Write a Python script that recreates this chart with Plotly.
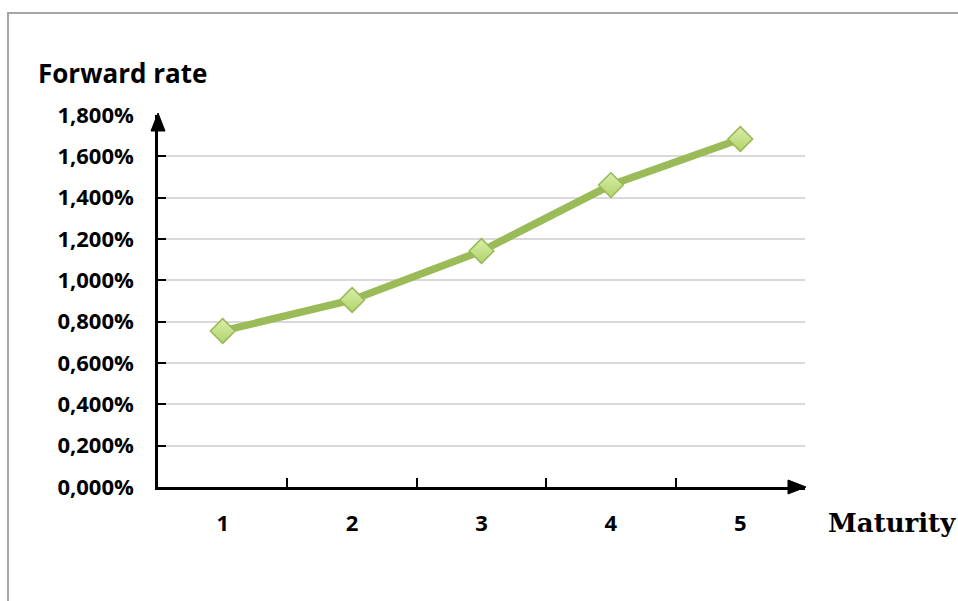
import plotly.graph_objects as go

# Forward rate by maturity (values in percent)
maturities = ["1", "2", "3", "4", "5"]
forward_rates = [0.755, 0.905, 1.142, 1.461, 1.684]

tick_values = [0, 0.2, 0.4, 0.6, 0.8, 1.0, 1.2, 1.4, 1.6, 1.8]
tick_labels = ["0,000%", "0,200%", "0,400%", "0,600%", "0,800%",
               "1,000%", "1,200%", "1,400%", "1,600%", "1,800%"]

W, H = 958, 601
L, R, T, B = 158, 153, 115, 114
PW, PH = W - L - R, H - T - B


def px_x(p):
    return (p - L) / PW


def px_y(p):
    return (H - B - p) / PH


fig = go.Figure()

fig.add_trace(go.Scatter(
    x=maturities,
    y=forward_rates,
    mode="lines+markers",
    line=dict(color="#9bbb59", width=7.5),
    marker=dict(
        symbol="diamond",
        size=19,
        color="#d9eeaa",
        gradient=dict(type="vertical", color="#b3d36a"),
        line=dict(color="#98b857", width=1.5),
    ),
    hoverinfo="x+y",
))

sans = "'Open Sans', Lato, sans-serif"
axis_font = dict(family=sans, size=22, color="#000000", weight="bold")

fig.update_layout(
    width=W,
    height=H,
    margin=dict(l=L, r=R, t=T, b=B),
    paper_bgcolor="#ffffff",
    plot_bgcolor="#ffffff",
    showlegend=False,
    xaxis=dict(
        type="category",
        categoryorder="array",
        categoryarray=maturities,
        range=[-0.5, 4.5],
        tickson="boundaries",
        ticks="inside",
        ticklen=9,
        tickwidth=1.5,
        tickcolor="#000000",
        showline=True,
        linecolor="#000000",
        linewidth=2.5,
        showgrid=False,
        zeroline=False,
        tickfont=axis_font,
        ticklabelstandoff=15,
    ),
    yaxis=dict(
        range=[0, 1.8],
        tickvals=tick_values,
        ticktext=tick_labels,
        ticks="inside",
        ticklen=8,
        tickwidth=2,
        tickcolor="#000000",
        showline=True,
        linecolor="#000000",
        linewidth=2.5,
        showgrid=True,
        gridcolor="#d9d9d9",
        gridwidth=1.5,
        zeroline=False,
        tickfont=axis_font,
        ticklabelstandoff=17,
    ),
)

# Outer chart frame
fig.add_shape(
    type="rect", xref="paper", yref="paper",
    x0=px_x(8), x1=px_x(975), y0=px_y(620), y1=px_y(13),
    line=dict(color="#a6a6a6", width=2), fillcolor="rgba(0,0,0,0)",
    layer="below",
)

# Arrowheads at the ends of both axes
fig.add_shape(
    type="path", xref="paper", yref="paper",
    xsizemode="pixel", ysizemode="pixel",
    xanchor=0, yanchor=1,
    path="M -7 -16 L 7 -16 L 0 2 Z",
    fillcolor="#000000", line=dict(color="#000000", width=1),
)
fig.add_shape(
    type="path", xref="paper", yref="paper",
    xsizemode="pixel", ysizemode="pixel",
    xanchor=1, yanchor=0,
    path="M -17 -7 L -17 7 L 1 0 Z",
    fillcolor="#000000", line=dict(color="#000000", width=1),
)

# Axis titles
fig.add_annotation(
    text="<b>Forward rate</b>", xref="paper", yref="paper",
    x=px_x(36), y=px_y(73), xanchor="left", yanchor="middle",
    showarrow=False,
    font=dict(family=sans, size=26, color="#000000"),
)
fig.add_annotation(
    text="<b>Maturity</b>", xref="paper", yref="paper",
    x=px_x(826), y=px_y(523), xanchor="left", yanchor="middle",
    showarrow=False,
    font=dict(family="'DejaVu Serif', 'Liberation Serif', serif", size=26, color="#000000"),
)

fig.write_html("out.html")
